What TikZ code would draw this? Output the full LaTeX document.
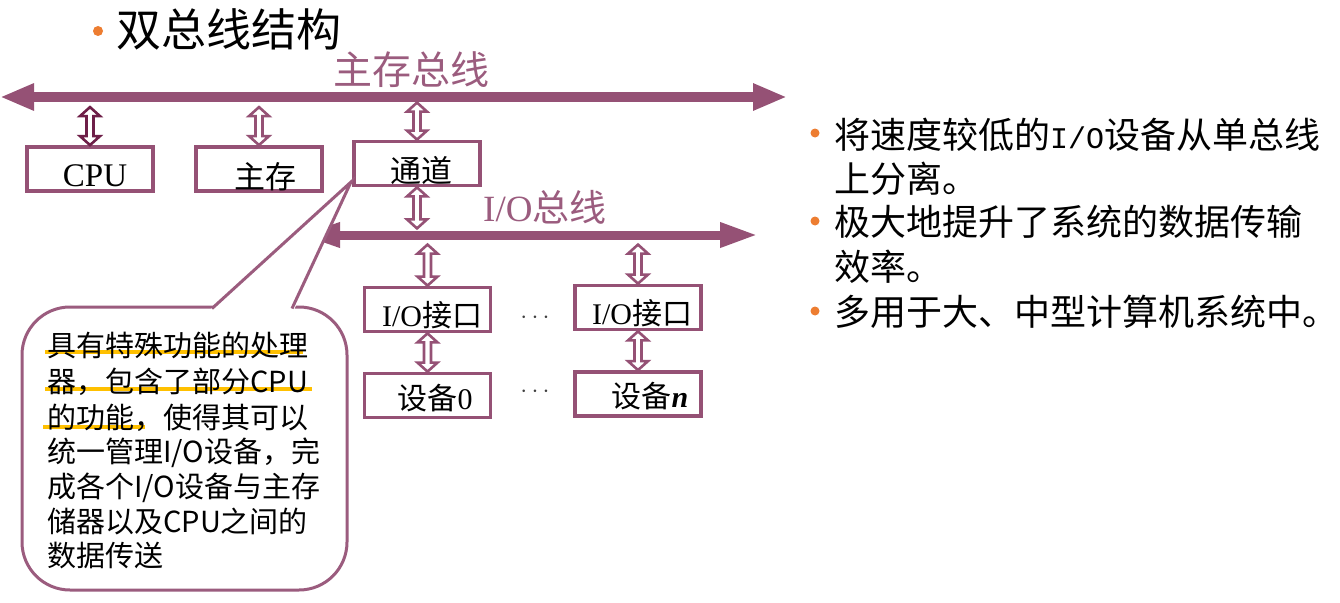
\documentclass[tikz,border=0pt]{standalone}
\usepackage{fontspec}
\setmainfont{Liberation Serif}
\newfontfamily\cjk{Noto Sans CJK SC}
\newfontfamily\monof{Liberation Mono}
\usetikzlibrary{arrows.meta,calc}
\definecolor{bus}{HTML}{955175}
\definecolor{buslbl}{HTML}{9B5C7E}
\definecolor{darkarr}{HTML}{6E1F48}
\definecolor{bul}{HTML}{ED7D31}
\definecolor{hl}{HTML}{FFC000}
\newcommand\darr[3][bus]{\draw[line width=2.6pt,draw=#1,fill=white,line join=miter]
  let \p1=(#2), \p2=(#3) in (\x1,\y1) -- ++(10pt,-9pt) -- ++(-6.5pt,0pt) -- (\x1+3.5pt,\y2+9pt)
  -- ++(6.5pt,0pt) -- (\x1,\y2) -- ++(-10pt,9pt) -- ++(6.5pt,0pt) -- (\x1-3.5pt,\y1-9pt)
  -- ++(-6.5pt,0pt) -- cycle;}
\tikzset{
  box/.style={draw=bus,line width=3.8pt,inner sep=0pt,minimum width=126pt,minimum height=44pt},
  lbl/.style={inner sep=0pt,font=\fontsize{33}{36}\selectfont},
  mainbus/.style={draw=bus,line width=10pt,{Triangle[length=34pt,width=25pt]}-{Triangle[length=34pt,width=25pt]}},
  iobus/.style={draw=bus,line width=9pt,{Triangle[length=40pt,width=23pt]}-{Triangle[length=38pt,width=23pt]}},
  busname/.style={inner sep=0pt,anchor=base west,text=buslbl},
  ctext/.style={inner sep=0pt,anchor=base west,font=\cjk\fontsize{29}{34}\selectfont},
  rtext/.style={inner sep=0pt,anchor=base west,font=\cjk\fontsize{36}{44}\selectfont},
  dots/.style={inner sep=0pt,text=black!75,font=\fontsize{24}{26}\selectfont},
  hlline/.style={draw=hl,line width=4.5pt},
  bulletdot/.style={fill=bul,draw=none},
  callout/.style={draw=buslbl,line width=3pt}
}
\begin{document}
\begin{tikzpicture}[x=1pt,y=-1pt]
\useasboundingbox[fill=white] (0,0) rectangle (1340,602);
% title
\fill[bulletdot] (98,31) circle (5);
\node[inner sep=0pt,anchor=base west,font=\cjk\fontsize{45}{50}\selectfont] (title) at (116,47) {双总线结构};
% main bus
\coordinate (mbL) at (0,97);
\coordinate (mbR) at (787,97);
\draw[mainbus] (mbL) -- (mbR);
\node[busname,font=\cjk\fontsize{39}{44}\selectfont] (mblabel) at (333,84) {主存总线};
% boxes
\node[box] (cpu) at (90,169) {};
\node[lbl] (cpuT) at (95,176) {CPU};
\node[box] (mem) at (259,169) {};
\node[lbl,font=\cjk\fontsize{31}{36}\selectfont] (memT) at (265,177) {主存};
\node[box] (chan) at (417,163.5) {};
\node[lbl,font=\cjk\fontsize{31}{36}\selectfont] (chanT) at (421,171) {通道};
% arrows main bus
\darr[darkarr]{$(cpu.north)+(0,-38)$}{cpu.north}
\darr{$(mem.north)+(0,-38)$}{mem.north}
\darr{$(chan.north)+(0,-37)$}{chan.north}
% io bus
\coordinate (ioL) at (300,235);
\coordinate (ioR) at (758,235);
\draw[iobus] (ioL) -- (ioR);
\node[busname,font=\fontsize{37}{42}\selectfont] (iolabel) at (483,221) {I/O{\cjk 总线}};
\darr{chan.south}{$(chan.south)+(0,41)$}
% io interfaces
\node[box] (if1) at (427.5,309.5) {};
\node[lbl,font=\fontsize{30}{34}\selectfont] (if1T) at (432,315) {I/O{\cjk 接口}};
\node[box] (if2) at (638,307.5) {};
\node[lbl,font=\fontsize{30}{34}\selectfont] (if2T) at (642,313) {I/O{\cjk 接口}};
\node[box] (dev0) at (427.5,395.5) {};
\node[lbl,font=\fontsize{30}{34}\selectfont] (dev0T) at (435,398) {{\cjk 设备}0};
\node[box] (devn) at (638,394) {};
\node[lbl,font=\fontsize{30}{34}\selectfont] (devnT) at (650,396) {{\cjk 设备}\textbf{\textit{n}}};
\darr{$(if1.north)+(0,-41)$}{if1.north}
\darr{$(if2.north)+(0,-39)$}{if2.north}
\darr{if1.south}{dev0.north}
\darr{if2.south}{devn.north}
\node[dots] (d1) at (535,318) {$\cdots$};
\node[dots] (d2) at (535,392) {$\cdots$};
% callout
\draw[callout,fill=white,rounded corners=48pt] (22,307) rectangle (347,590);
\fill[white] (210,310) -- (350,183) -- (294,310) -- cycle;
\coordinate (tip) at (351,182);
\draw[callout,line join=miter] (212,308.5) -- (tip) -- (292,308.5);
\draw[hlline] (45,352) -- (303,352);
\draw[hlline] (45,389) -- (312,389);
\draw[hlline] (43,427) -- (145,427);
\node[ctext] (c1) at (47,356) {具有特殊功能的处理};
\node[ctext] (c2) at (47,392) {器，包含了部分CPU};
\node[ctext] (c3) at (47,428) {的功能，使得其可以};
\node[ctext] (c4) at (47,462) {统一管理I/O设备，完};
\node[ctext] (c5) at (47,497) {成各个I/O设备与主存};
\node[ctext] (c6) at (47,532) {储器以及CPU之间的};
\node[ctext] (c7) at (47,566) {数据传送};
% right bullets
\fill[bulletdot] (815,133) circle (4.5);
\fill[bulletdot] (815,221) circle (4.5);
\fill[bulletdot] (815,311) circle (4.5);
\node[rtext] (r1) at (834,148.5) {将速度较低的{\monof\fontsize{30}{32}\selectfont I/O}设备从单总线};
\node[rtext] (r2) at (834,192.5) {上分离。};
\node[rtext] (r3) at (834,235.5) {极大地提升了系统的数据传输};
\node[rtext] (r4) at (834,280.5) {效率。};
\node[rtext] (r5) at (834,325.5) {多用于大、中型计算机系统中。};
\end{tikzpicture}
\end{document}
